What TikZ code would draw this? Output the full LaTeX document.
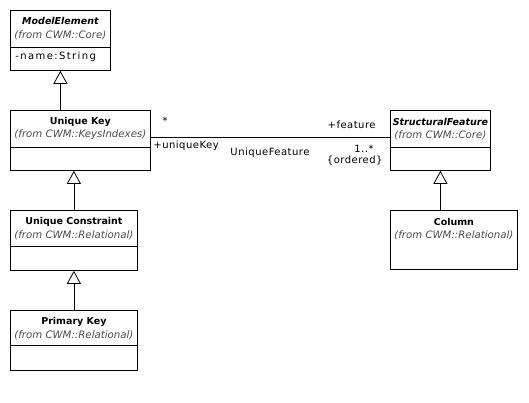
\documentclass[tikz,border=0pt]{standalone}
\usepackage{fontspec}
\setmainfont{DejaVu Sans}
\usetikzlibrary{arrows.meta,positioning}

\tikzset{
  classbox/.style={draw, rectangle, anchor=north west, inner sep=0pt, minimum height=60pt},
  classname/.style={font=\fontsize{9.5}{11}\selectfont\bfseries, inner sep=0pt},
  fromtext/.style={font=\fontsize{10.2}{12}\selectfont\itshape, text=black!70, inner sep=0pt},
  roletext/.style={font=\fontsize{10}{12}\selectfont\addfontfeature{LetterSpace=5}, inner sep=0pt},
  attrtext/.style={font=\fontsize{10}{12}\selectfont\addfontfeature{LetterSpace=14}, inner sep=0pt},
  inherits/.style={-{Triangle[open, length=13pt, width=14pt]}},
}

\begin{document}
\begin{tikzpicture}[x=1pt, y=-1pt, line width=0.8pt]
                \useasboundingbox (0,0) rectangle (529,402);

                % classes
                \node[classbox, minimum width=100pt] (modelElement) at (10,10) {};
                \node[classbox, minimum width=140pt] (uniqueKey) at (10,110) {};
                \node[classbox, minimum width=127pt] (uniqueConstraint) at (10,210) {};
                \node[classbox, minimum width=127pt] (primaryKey) at (10,310) {};
                \node[classbox, minimum width=100pt] (structuralFeature) at (390,110) {};
                \node[classbox, minimum width=127pt, minimum height=59pt] (column) at (390,210) {};

                % names
                \node[classname] (modelElementName) at ([yshift=-11]modelElement.north) {\itshape ModelElement};
                \node[fromtext] (modelElementFrom) at ([yshift=-25]modelElement.north) {(from CWM::Core)};
                \node[attrtext, anchor=west] (modelElementAttr) at ([xshift=5, yshift=-47]modelElement.north west) {-name:String};
                \node[classname] (uniqueKeyName) at ([yshift=-12]uniqueKey.north) {Unique Key};
                \node[fromtext] (uniqueKeyFrom) at ([yshift=-25]uniqueKey.north) {(from CWM::KeysIndexes)};
                \node[classname] (uniqueConstraintName) at ([yshift=-12]uniqueConstraint.north) {Unique Constraint};
                \node[fromtext] (uniqueConstraintFrom) at ([yshift=-25]uniqueConstraint.north) {(from CWM::Relational)};
                \node[classname] (primaryKeyName) at ([yshift=-12]primaryKey.north) {Primary Key};
                \node[fromtext] (primaryKeyFrom) at ([yshift=-25]primaryKey.north) {(from CWM::Relational)};
                \node[classname] (structuralFeatureName) at ([yshift=-12]structuralFeature.north) {\itshape StructuralFeature};
                \node[fromtext] (structuralFeatureFrom) at ([yshift=-25]structuralFeature.north) {(from CWM::Core)};
                \node[classname] (columnName) at ([yshift=-12]column.north) {Column};
                \node[fromtext] (columnFrom) at ([yshift=-25]column.north) {(from CWM::Relational)};

                % compartments
                \draw ([yshift=-37]modelElement.north west) -- ([yshift=-37]modelElement.north east);
                \draw ([yshift=-37]uniqueKey.north west) -- ([yshift=-37]uniqueKey.north east);
                \draw ([yshift=-36]uniqueConstraint.north west) -- ([yshift=-36]uniqueConstraint.north east);
                \draw ([yshift=-35]primaryKey.north west) -- ([yshift=-35]primaryKey.north east);
                \draw ([yshift=-37]structuralFeature.north west) -- ([yshift=-37]structuralFeature.north east);

                % generalizations
                \draw[inherits] (modelElement.south |- uniqueKey.north) -- (modelElement.south);
                \draw[inherits] (uniqueConstraint.north) -- (uniqueConstraint.north |- uniqueKey.south);
                \draw[inherits] (primaryKey.north -| uniqueConstraint.south) -- (uniqueConstraint.south);
                \draw[inherits] (structuralFeature.south |- column.north) -- (structuralFeature.south);

                % association
                \draw ([yshift=3]uniqueKey.east) -- ([yshift=3]structuralFeature.west);
                \node[roletext] (starKey) at (165,121) {*};
                \node[roletext, anchor=west] (uniqueKeyRole) at (153,146) {+uniqueKey};
                \node[roletext] (assocName) at (270,153) {UniqueFeature};
                \node[roletext, anchor=east] (featureRole) at (376,125) {+feature};
                \node[roletext, anchor=east] (featureMult) at (374,149) {1..*};
                \node[roletext, anchor=east] (featureOrdered) at (383,161) {\{ordered\}};
			\end{tikzpicture}
\end{document}
